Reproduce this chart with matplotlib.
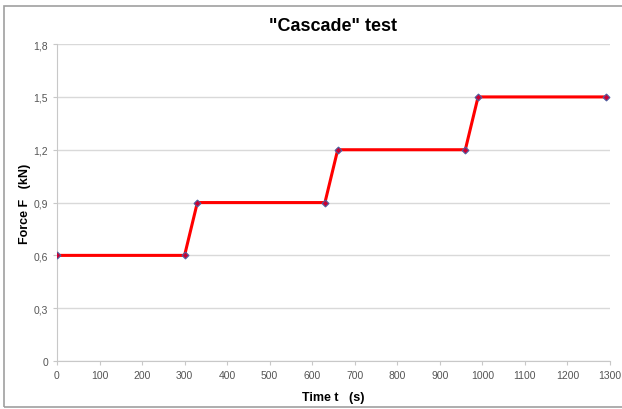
import matplotlib.pyplot as plt
from matplotlib.patches import Rectangle

plt.rcParams["font.family"] = ["Liberation Sans", "DejaVu Sans"]

time_s = [0, 300, 330, 630, 660, 960, 990, 1290]
force_kn = [0.6, 0.6, 0.9, 0.9, 1.2, 1.2, 1.5, 1.5]

x_ticks = list(range(0, 1301, 100))
y_ticks = [0, 0.3, 0.6, 0.9, 1.2, 1.5, 1.8]
y_labels = ["0", "0,3", "0,6", "0,9", "1,2", "1,5", "1,8"]

fig = plt.figure(figsize=(6.22, 4.10), dpi=100)
# outer chart frame (runs off the right edge in the original)
fig.patches.append(Rectangle((0.007, 0.004), 1.05, 0.98, transform=fig.transFigure,
                             fill=False, edgecolor="#a0a0a0", linewidth=1.2))

ax = fig.add_axes([0.0916, 0.117, 0.889, 0.773])

ax.plot(time_s, force_kn, color="#ff0000", linewidth=2.2, marker="D", markersize=3.5,
        markerfacecolor="#cc0033", markeredgecolor="#5060a0", markeredgewidth=0.8, zorder=3)

ax.set_xlim(0, 1300)
ax.set_ylim(0, 1.8)
ax.set_xticks(x_ticks)
ax.set_yticks(y_ticks)
ax.set_yticklabels(y_labels)

ax.grid(True, axis="y", color="#d9d9d9", linewidth=1)
ax.set_axisbelow(True)
for side in ["top", "right"]:
    ax.spines[side].set_visible(False)
for side in ["left", "bottom"]:
    ax.spines[side].set_color("#c8c8c8")
ax.tick_params(colors="#c8c8c8", labelcolor="#555555", labelsize=7.5, length=3)

ax.set_xlabel("Time t   (s)", fontsize=9, fontweight="bold", labelpad=8)
ax.set_ylabel("Force F   (kN)", fontsize=9, fontweight="bold", labelpad=2)
ax.set_title('"Cascade" test', fontsize=13, fontweight="bold", pad=10)

fig.savefig("out.png", dpi=100)
